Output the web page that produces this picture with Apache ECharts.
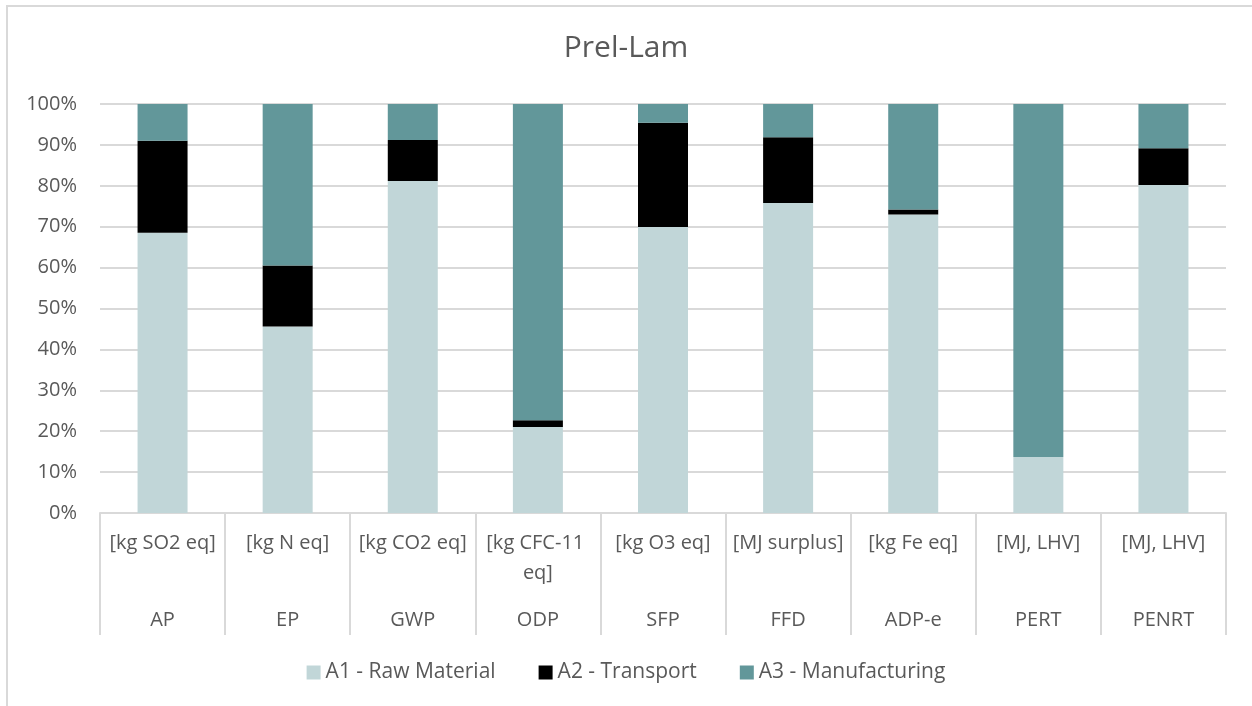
<!DOCTYPE html>
<html>
<head>
<meta charset="utf-8">
<script src="https://cdn.jsdelivr.net/npm/echarts@6/dist/echarts.min.js"></script>
<style>html,body{margin:0;padding:0;background:#fff}#c{width:1252px;height:706px}</style>
</head>
<body>
<div id="c"></div>
<script>
var indicators = ["AP", "EP", "GWP", "ODP", "SFP", "FFD", "ADP-e", "PERT", "PENRT"];
var units = ["[kg SO2 eq]", "[kg N eq]", "[kg CO2 eq]", "[kg CFC-11 eq]", "[kg O3 eq]", "[MJ surplus]", "[kg Fe eq]", "[MJ, LHV]", "[MJ, LHV]"];
var a1RawMaterial = [68.5, 45.6, 81.2, 21.0, 69.9, 75.8, 73.0, 13.7, 80.2];
var a2Transport = [22.5, 14.9, 10.0, 1.7, 25.5, 16.1, 1.2, 0, 9.0];
var a3Manufacturing = [9.0, 39.5, 8.8, 77.3, 4.6, 8.1, 25.8, 86.3, 10.8];
var yTicks = [0, 10, 20, 30, 40, 50, 60, 70, 80, 90, 100];
var seriesNames = ["A1 - Raw Material", "A2 - Transport", "A3 - Manufacturing"];

var FONT = "'Open Sans', 'Noto Sans', sans-serif";
var TXT = '#595959';
var GRID = '#d9d9d9';
var chart = echarts.init(document.getElementById('c'), null, {renderer: 'canvas'});
chart.setOption({
  animation: false,
  backgroundColor: '#ffffff',
  textStyle: {fontFamily: FONT, color: TXT},
  title: {
    text: 'Prel-Lam', left: 'center', top: 28,
    textStyle: {fontFamily: FONT, fontSize: 30, fontWeight: 'normal', color: TXT}
  },
  graphic: [{
    type: 'rect', silent: true, z: -1,
    shape: {x: 7, y: 6, width: 1270, height: 740},
    style: {fill: null, stroke: GRID, lineWidth: 2}
  }],
  legend: {
    data: seriesNames, left: 'center', top: 657,
    itemWidth: 14, itemHeight: 14, itemGap: 43,
    icon: 'rect',
    textStyle: {fontFamily: FONT, fontSize: 21, color: TXT}
  },
  grid: {left: 100, right: 26, top: 104, bottom: 193, containLabel: false},
  xAxis: [{
    type: 'category', data: units, position: 'bottom',
    axisLine: {show: true, lineStyle: {color: GRID, width: 2}},
    axisTick: {show: true, length: 122, lineStyle: {color: GRID, width: 2}},
    axisLabel: {
      interval: 0, margin: 15, fontFamily: FONT, fontSize: 20, color: TXT,
      lineHeight: 30, width: 122, overflow: 'break'
    },
    splitLine: {show: false}
  }, {
    type: 'category', data: indicators, position: 'bottom',
    axisLine: {show: false}, axisTick: {show: false},
    axisLabel: {interval: 0, margin: 92, fontFamily: FONT, fontSize: 20, color: TXT, lineHeight: 30},
    splitLine: {show: false}
  }],
  yAxis: {
    type: 'value', min: yTicks[0], max: yTicks[yTicks.length - 1], interval: yTicks[1] - yTicks[0],
    axisLine: {show: false}, axisTick: {show: false},
    axisLabel: {formatter: '{value}%', margin: 23, fontFamily: FONT, fontSize: 20, color: TXT},
    splitLine: {lineStyle: {color: GRID, width: 2}}
  },
  series: [
    {name: seriesNames[0], type: 'bar', stack: 'total', barWidth: 50, data: a1RawMaterial, itemStyle: {color: '#c1d6d8'}},
    {name: seriesNames[1], type: 'bar', stack: 'total', barWidth: 50, data: a2Transport, itemStyle: {color: '#000000'}},
    {name: seriesNames[2], type: 'bar', stack: 'total', barWidth: 50, data: a3Manufacturing, itemStyle: {color: '#62979a'}}
  ]
});
</script>
</body>
</html>
